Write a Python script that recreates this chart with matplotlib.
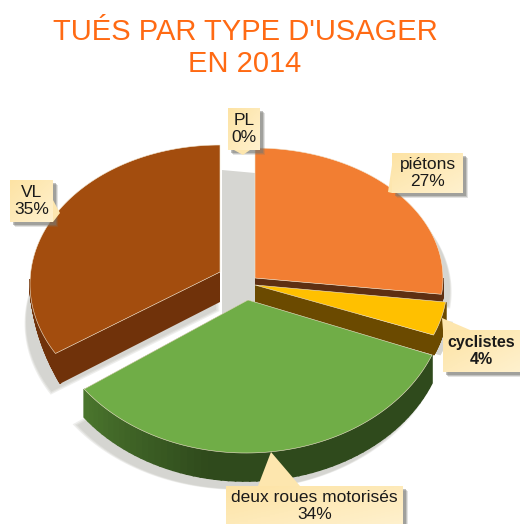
import numpy as np
import matplotlib
matplotlib.use('Agg')
import matplotlib.pyplot as plt
from matplotlib.colors import LinearSegmentedColormap, to_rgb
from matplotlib.patches import Polygon

plt.rcParams['font.family'] = ['Liberation Sans', 'DejaVu Sans']

# data
categories = ['piétons', 'cyclistes', 'deux roues motorisés', 'VL', 'PL']
values = [27, 4, 34, 35, 0]
title_lines = ["TUÉS PAR TYPE D'USAGER", 'EN 2014']

top_colors = ['#F27E32', '#FFC000', '#70AD47', '#A34D0E']
side_colors = ['#5E2F12', '#6B4A00', '#2F4A1C', '#70320A']
rim_light = ['#5E2F12', '#6B4A00', '#4F7D30', '#70320A']

# slice geometry in pixels: apex x, apex y, centre x, centre y, radius x, radius y, depth
geom = [(255, 278, 255, 278, 188, 130, 10),
        (255, 285, 255, 285, 192, 136, 20),
        (248, 300, 246, 298, 200, 155, 28),
        (220, 272, 220, 284, 190, 139, 30)]
# the perspective moves the start of the last slice a little
start_shift = [0, 0, 0, 6]
rim_taper = [None, None, None, 272]  # rim thins out to nothing at this angle

fig = plt.figure(figsize=(5.2, 5.24), dpi=100)
ax = fig.add_axes([0, 0, 1, 1])
ax.set_xlim(0, 520)
ax.set_ylim(524, 0)
ax.axis('off')

box_map = LinearSegmentedColormap.from_list('box', ['#FDE3A4', '#FFF1CE'])


def arc(g, t0, t1, n=80):
    t = np.radians(np.linspace(t0, t1, n))
    return np.column_stack([g[2] + g[4]*np.sin(t), g[3] - g[5]*np.cos(t)])


def callout(box, tip, base, lines, bold=False, size=12.5):
    # box is x0, y0, x1, y1, base the two points of the pointer on its border
    x0, y0, x1, y1 = box
    corners = np.array([(x0, y0), (x1, y0), (x1, y1), (x0, y1)], dtype=float)
    for off, a in [(5, .2), (4, .3), (3, .45)]:
        ax.add_patch(Polygon(corners + [off, off], fc='#777772', alpha=a, ec='none', zorder=8))
    ax.add_patch(Polygon([tip, base[0], base[1]], fc='#FDE6AE', ec='none', zorder=9))
    grad = np.linspace(0, 1, 40)[None, :] + np.linspace(0, 1, 40)[:, None]
    ax.imshow(grad, cmap=box_map, extent=(x0, x1, y1, y0), aspect='auto', zorder=9)
    ax.text((x0+x1)/2, (y0+y1)/2, '\n'.join(lines), ha='center', va='center', fontsize=size,
            color='#1a1a1a', fontweight='bold' if bold else 'normal',
            linespacing=1.12, zorder=10)


angles = np.cumsum([0] + values) * 3.6
lows = [a + s for a, s in zip(angles[:-1], start_shift)]

# grey band left behind the gap between the slices
band_top = 170
ax.add_patch(Polygon([(geom[3][0]+2, band_top), (geom[0][0], band_top+3),
                      (geom[0][0], geom[2][1]+4), (geom[3][0]+2, geom[2][1]+20)],
                     fc='#D6D6D2', ec='none', zorder=1))

# soft grey shadow behind the slices
shadow_off = [(7, 12), (7, 20), (-7, 36), (-4, 38)]
for i, g in enumerate(geom):
    pts = np.vstack([[g[0], g[1]], arc(g, lows[i], angles[i+1])])
    mid = pts.mean(axis=0)
    for grow, a in [(1.025, .35), (1.012, .45), (1.0, .6)]:
        ax.add_patch(Polygon(mid + (pts-mid)*grow + shadow_off[i],
                             fc='#CFCFCA', alpha=a, ec='none', zorder=1))

for i in [3, 0, 1, 2]:
    g = geom[i]
    t0, t1 = lows[i], angles[i+1]
    depth = g[6]
    pts = np.vstack([[g[0], g[1]], arc(g, t0, t1)])
    # radial walls, only the cuts that face the viewer
    for t in (t0, t1):
        if t >= 360:
            continue
        edge = arc(g, t, t, 2)[0]
        wall = [(g[0], g[1]), tuple(edge), (edge[0]+(5 if i == 3 else 0), edge[1]+depth),
                (g[0], g[1]+depth)]
        ax.add_patch(Polygon(wall, fc=side_colors[i], ec='none', zorder=2+i*0.1))
    # outer rim on the front half, drawn in short pieces for the shading
    end = rim_taper[i] if rim_taper[i] else min(t1, 270)
    lo = max(t0, 90)
    if lo < end:
        ts = np.linspace(lo, end, 61)
        rim = arc(g, lo, end, 61)
        if rim_taper[i]:
            d = depth*(end-ts)/(end-lo)
            dx = 5*(end-ts)/(end-lo)
        else:
            d = np.full(61, float(depth))
            dx = np.zeros(61)
        for k in range(60):
            # green rim is lighter on its left part
            f = np.clip((ts[k]-190)/50, 0, 1)
            col = np.array(to_rgb(side_colors[i]))*(1-f) + np.array(to_rgb(rim_light[i]))*f
            quad = [rim[k], rim[k+1], rim[k+1]+[dx[k+1], d[k+1]], rim[k]+[dx[k], d[k]]]
            ax.add_patch(Polygon(quad, fc=col, ec=col, lw=1.2, zorder=2+i*0.1))
    ax.add_patch(Polygon(pts, fc=top_colors[i], ec='#f3e6d0', lw=0.4, zorder=3+i*0.1))

ax.text(245, 32, title_lines[0], ha='center', va='center', fontsize=21, color='#FF6A13')
ax.text(245, 64, title_lines[1], ha='center', va='center', fontsize=21, color='#FF6A13')


def lab(i):
    return [categories[i], '%d%%' % values[i]]


callout((392, 153, 463, 193), (388, 192), [(392, 165), (392, 193)], lab(0))
callout((443, 330, 520, 372), (442, 318), [(443, 330), (470, 330)], lab(1), bold=True, size=11.5)
callout((226, 486, 403, 526), (271, 452), [(258, 486), (300, 486)], lab(2))
callout((10, 180, 53, 222), (60, 213), [(53, 200), (53, 222)], lab(3))
callout((228, 108, 260, 150), (243, 155), [(234, 150), (250, 150)], lab(4))

ax.set_xlim(0, 520)
ax.set_ylim(524, 0)
fig.savefig('out.png', dpi=100)
